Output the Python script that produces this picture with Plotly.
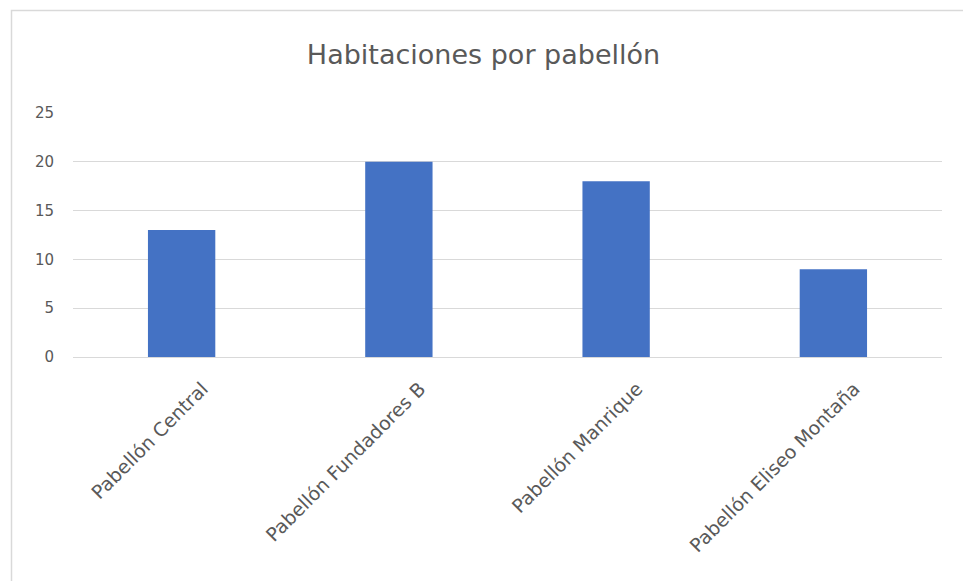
import plotly.graph_objects as go

# Rooms per pavilion
pabellones = [
    "Pabellón Central",
    "Pabellón Fundadores B",
    "Pabellón Manrique",
    "Pabellón Eliseo Montaña",
]
habitaciones = [13, 20, 18, 9]
y_ticks = [0, 5, 10, 15, 20, 25]

W, H = 963, 581
ML, MR, MT, MB = 73, 21, 113, 224
PW, PH = W - ML - MR, H - MT - MB

TEXT = "#595959"
GRID = "#d9d9d9"
FONT = "DejaVu Sans, Open Sans, sans-serif"

fig = go.Figure(
    go.Bar(
        x=pabellones,
        y=habitaciones,
        marker=dict(color="#4472C4", line=dict(width=0)),
        width=0.31,
    )
)

# light frame around the chart (left and top edges visible)
def px_x(p):
    return (p - ML) / PW


def px_y(p):
    return (H - MB - p) / PH


fig.add_shape(
    type="rect",
    xref="paper", yref="paper",
    x0=px_x(11.5), x1=px_x(W + 5),
    y0=px_y(H + 5), y1=px_y(10.5),
    line=dict(color=GRID, width=1.5),
    fillcolor="rgba(0,0,0,0)",
    layer="below",
)

fig.update_layout(
    width=W,
    height=H,
    margin=dict(l=ML, r=MR, t=MT, b=MB),
    paper_bgcolor="white",
    plot_bgcolor="white",
    showlegend=False,
    title=dict(
        text="Habitaciones por pabellón",
        x=(297 + 670) / 2 / W,
        xanchor="center",
        yref="container",
        y=1 - 55 / H,
        yanchor="middle",
        font=dict(family=FONT, size=27, color=TEXT),
    ),
)

fig.update_yaxes(
    range=[0, 25],
    tickvals=y_ticks,
    showgrid=True,
    gridcolor=GRID,
    gridwidth=1,
    zeroline=True,
    zerolinecolor=GRID,
    zerolinewidth=1,
    showline=False,
    ticks="",
    ticklabelstandoff=18,
    tickfont=dict(family=FONT, size=15, color=TEXT),
)

fig.update_xaxes(
    showgrid=False,
    showline=False,
    ticks="",
    tickangle=-45,
    ticklabelshift=21,
    ticklabelstandoff=16,
    tickfont=dict(family=FONT, size=19, color=TEXT),
)

fig.write_html("out.html")
